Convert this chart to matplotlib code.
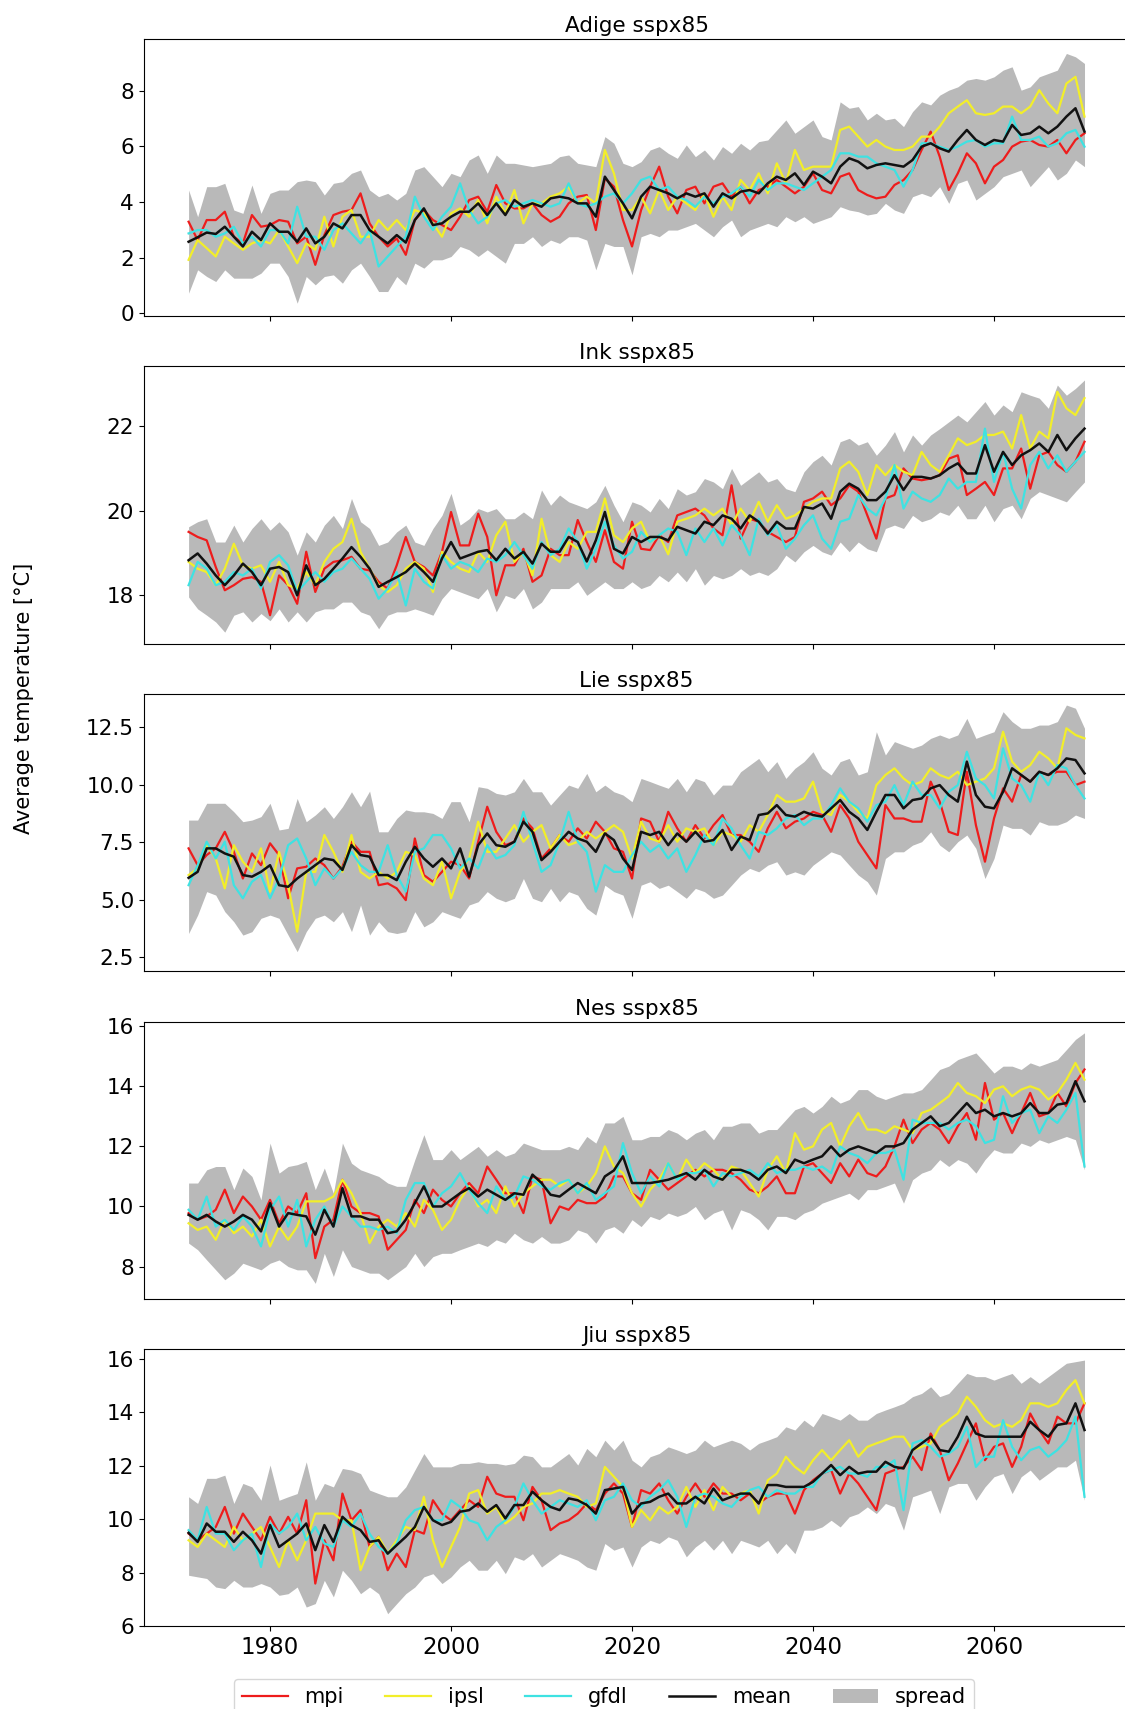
import numpy as np
import matplotlib
matplotlib.use("Agg")
import matplotlib.pyplot as plt
from matplotlib.patches import Patch

# yearly basin temperatures, 1971-2070
years = np.arange(1971, 2071)

adige_mpi = [
    3.29, 2.63, 3.35, 3.35, 3.65, 2.75, 2.51, 3.53, 3.11, 3.17,
    3.35, 3.29, 2.51, 2.75, 1.74, 2.81, 3.53, 3.65, 3.71, 4.31,
    3.23, 2.75, 2.40, 2.69, 2.10, 3.35, 3.71, 3.35, 3.17, 2.99,
    3.47, 4.07, 4.19, 3.65, 4.61, 3.95, 3.77, 3.77, 3.95, 3.53,
    3.29, 3.47, 3.95, 4.19, 4.25, 2.99, 4.85, 4.55, 3.35, 2.40,
    3.71, 4.55, 5.27, 4.19, 3.59, 4.43, 4.55, 3.95, 4.55, 4.67,
    4.19, 4.55, 3.95, 4.43, 4.55, 4.79, 4.55, 4.31, 4.55, 5.03,
    4.43, 4.31, 4.91, 5.03, 4.43, 4.25, 4.13, 4.19, 4.61, 4.79,
    5.15, 5.87, 6.53, 5.63, 4.43, 5.03, 5.75, 5.39, 4.67, 5.27,
    5.51, 5.99, 6.17, 6.23, 6.05, 5.99, 6.23, 5.75, 6.23, 6.47,
]
adige_ipsl = [
    1.92, 2.63, 2.34, 2.04, 2.75, 2.51, 2.28, 2.51, 2.63, 2.51,
    2.99, 2.40, 1.80, 2.51, 2.28, 3.47, 2.40, 3.47, 3.71, 2.75,
    2.75, 3.35, 2.99, 3.35, 2.99, 3.71, 3.59, 3.23, 2.75, 3.59,
    3.77, 3.47, 4.07, 3.23, 4.19, 3.59, 4.43, 3.23, 3.95, 3.95,
    4.19, 4.31, 4.55, 3.95, 4.19, 3.95, 5.87, 5.03, 3.71, 3.71,
    4.19, 3.59, 4.43, 3.71, 4.19, 3.95, 3.71, 4.31, 3.47, 4.19,
    3.71, 4.79, 4.43, 5.03, 4.31, 5.39, 4.67, 5.87, 5.15, 5.27,
    5.27, 5.27, 6.59, 6.71, 6.35, 5.99, 6.23, 5.99, 5.87, 5.87,
    5.99, 6.35, 6.35, 6.71, 7.19, 7.43, 7.66, 7.19, 7.13, 7.19,
    7.43, 7.43, 7.19, 7.43, 8.02, 7.54, 7.19, 8.26, 8.50, 7.07,
]
adige_gfdl = [
    2.87, 2.99, 2.99, 2.75, 2.87, 3.11, 2.51, 2.75, 2.40, 2.99,
    2.99, 2.51, 3.83, 2.75, 2.75, 2.28, 2.99, 3.23, 2.87, 2.51,
    2.99, 1.68, 2.04, 2.40, 2.75, 4.19, 3.47, 2.99, 3.47, 3.83,
    4.67, 3.71, 3.23, 3.47, 3.95, 4.07, 3.83, 3.95, 4.07, 3.95,
    3.83, 3.95, 4.67, 3.95, 3.83, 3.95, 4.19, 4.31, 3.95, 4.31,
    4.79, 4.91, 4.43, 4.55, 4.19, 4.07, 3.83, 4.19, 3.95, 4.19,
    4.31, 4.55, 4.19, 4.79, 4.43, 4.67, 4.67, 4.55, 4.43, 4.67,
    4.91, 5.15, 5.75, 5.75, 5.63, 5.63, 5.39, 5.27, 5.15, 4.55,
    5.15, 6.11, 6.11, 5.99, 5.87, 5.99, 6.17, 6.23, 5.99, 6.11,
    6.11, 7.07, 6.23, 6.23, 6.35, 5.99, 6.11, 6.47, 6.59, 5.99,
]
adige_mean = [
    2.57, 2.73, 2.90, 2.85, 3.11, 2.75, 2.40, 2.93, 2.63, 3.23,
    2.93, 2.93, 2.57, 3.05, 2.51, 2.75, 3.23, 3.05, 3.53, 3.53,
    2.99, 2.75, 2.51, 2.81, 2.54, 3.35, 3.77, 3.17, 3.23, 3.47,
    3.65, 3.65, 3.95, 3.53, 3.95, 3.53, 4.07, 3.83, 3.95, 3.83,
    4.13, 4.19, 4.13, 3.95, 3.95, 3.47, 4.91, 4.43, 3.95, 3.41,
    4.19, 4.55, 4.43, 4.31, 4.13, 4.31, 4.19, 4.31, 3.83, 4.31,
    4.13, 4.37, 4.43, 4.31, 4.67, 4.91, 4.79, 5.03, 4.61, 5.09,
    4.91, 4.67, 5.27, 5.57, 5.45, 5.21, 5.33, 5.39, 5.33, 5.27,
    5.51, 5.99, 6.11, 5.93, 5.81, 6.23, 6.59, 6.23, 6.05, 6.23,
    6.17, 6.77, 6.41, 6.47, 6.71, 6.47, 6.71, 7.07, 7.37, 6.53,
]
adige_low = [
    0.72, 1.56, 1.32, 1.14, 1.56, 1.26, 1.26, 1.26, 1.44, 1.80,
    1.80, 1.32, 0.36, 1.32, 1.02, 1.32, 1.38, 1.08, 1.56, 1.80,
    1.32, 0.78, 0.78, 1.32, 1.02, 1.80, 1.62, 1.92, 1.92, 2.04,
    2.40, 2.28, 2.04, 2.28, 2.04, 1.80, 2.51, 2.51, 2.75, 2.40,
    2.63, 2.51, 2.75, 2.75, 2.63, 1.56, 2.51, 2.40, 2.40, 1.38,
    2.75, 2.87, 2.75, 2.99, 2.99, 3.11, 3.23, 2.99, 2.75, 3.11,
    3.35, 2.75, 2.99, 3.11, 3.23, 3.11, 3.47, 3.29, 3.47, 3.23,
    3.35, 3.47, 3.83, 3.71, 3.65, 3.53, 3.59, 3.95, 3.71, 3.59,
    4.19, 4.31, 4.19, 4.55, 3.95, 4.67, 4.79, 4.07, 4.31, 4.55,
    4.91, 5.03, 5.15, 4.55, 4.91, 5.27, 4.79, 5.03, 5.51, 5.27,
]
adige_high = [
    4.43, 3.47, 4.55, 4.55, 4.67, 3.71, 3.59, 4.61, 3.59, 4.31,
    4.43, 4.43, 4.73, 4.79, 4.73, 4.25, 4.67, 4.73, 5.03, 5.15,
    4.43, 4.19, 4.31, 4.07, 4.31, 5.15, 5.27, 4.91, 4.55, 5.03,
    4.91, 5.51, 5.69, 5.03, 5.69, 5.39, 5.39, 5.33, 5.27, 5.33,
    5.39, 5.63, 5.69, 5.39, 5.33, 5.27, 6.35, 6.11, 5.39, 5.27,
    5.45, 5.87, 5.99, 5.75, 5.57, 6.05, 5.63, 5.87, 5.51, 5.99,
    5.75, 6.11, 5.87, 6.17, 6.23, 6.59, 6.95, 6.47, 6.71, 6.95,
    6.35, 6.23, 7.60, 7.37, 7.43, 6.95, 7.19, 6.95, 7.01, 6.71,
    7.25, 7.60, 7.49, 7.84, 8.02, 8.14, 8.38, 8.44, 8.38, 8.50,
    8.74, 8.86, 8.02, 8.14, 8.50, 8.62, 8.74, 9.34, 9.22, 8.98,
]

ink_mpi = [
    19.50, 19.38, 19.30, 18.67, 18.12, 18.24, 18.39, 18.43, 18.32, 17.53,
    18.47, 18.24, 17.80, 19.03, 18.08, 18.63, 18.79, 18.83, 18.91, 18.63,
    18.59, 18.32, 18.16, 18.71, 19.38, 18.79, 18.67, 18.47, 19.03, 19.97,
    19.18, 19.18, 19.93, 19.38, 18.00, 18.71, 18.71, 19.10, 18.32, 18.47,
    19.10, 18.95, 18.95, 19.78, 19.26, 18.79, 19.54, 18.79, 18.63, 19.74,
    19.10, 19.07, 19.42, 19.26, 19.89, 19.97, 20.05, 19.89, 19.58, 19.42,
    20.60, 19.34, 19.81, 19.74, 19.50, 19.38, 19.26, 19.38, 20.21, 20.29,
    20.45, 20.13, 20.29, 20.60, 20.45, 19.89, 19.34, 20.29, 20.37, 21.00,
    20.76, 20.72, 20.76, 20.84, 21.23, 21.31, 20.37, 20.52, 20.68, 20.37,
    21.00, 21.00, 21.47, 20.52, 21.31, 21.39, 21.08, 20.92, 21.16, 21.63,
]
ink_ipsl = [
    18.79, 18.63, 18.55, 18.24, 18.63, 19.22, 18.71, 18.63, 18.71, 18.32,
    18.79, 18.24, 18.16, 18.55, 18.24, 18.79, 19.10, 19.26, 19.81, 19.03,
    18.63, 18.24, 18.08, 18.24, 18.63, 18.79, 18.63, 18.08, 19.03, 18.79,
    18.63, 18.55, 19.03, 18.79, 19.42, 19.74, 18.79, 19.03, 18.47, 19.81,
    18.95, 18.79, 19.26, 19.10, 19.50, 19.50, 20.29, 19.42, 19.26, 19.58,
    19.74, 19.26, 19.42, 18.97, 19.74, 19.81, 19.89, 20.05, 19.89, 20.05,
    19.66, 20.05, 19.74, 20.21, 19.74, 20.13, 19.81, 19.89, 20.05, 20.21,
    20.29, 20.29, 21.00, 21.16, 20.92, 20.37, 21.08, 20.84, 21.08, 20.92,
    20.84, 21.39, 21.08, 20.92, 21.31, 21.71, 21.55, 21.63, 21.79, 21.79,
    21.87, 21.47, 22.26, 21.47, 21.87, 21.71, 22.81, 22.42, 22.26, 22.66,
]
ink_gfdl = [
    18.24, 18.79, 18.63, 18.24, 18.32, 18.55, 18.47, 18.63, 18.16, 18.79,
    18.95, 18.71, 18.08, 18.32, 18.55, 18.32, 18.55, 18.63, 18.87, 18.63,
    18.39, 17.92, 18.16, 18.55, 17.76, 18.63, 18.32, 18.16, 18.95, 18.63,
    18.79, 18.71, 18.55, 18.87, 18.79, 18.95, 19.26, 18.95, 18.63, 19.26,
    18.95, 19.10, 19.58, 19.26, 18.63, 19.10, 19.74, 19.18, 18.87, 19.03,
    19.50, 19.26, 19.42, 19.58, 19.50, 18.95, 19.58, 19.26, 19.58, 19.18,
    19.66, 19.42, 18.95, 19.81, 19.42, 19.66, 19.10, 19.34, 19.66, 19.89,
    19.34, 19.10, 19.74, 19.81, 20.37, 20.05, 19.89, 20.29, 21.08, 20.05,
    20.45, 20.29, 20.21, 20.37, 20.76, 20.52, 20.68, 20.68, 21.94, 20.68,
    21.39, 20.52, 20.05, 21.08, 21.39, 21.00, 21.31, 20.92, 21.16, 21.39,
]
ink_mean = [
    18.83, 18.99, 18.75, 18.47, 18.24, 18.47, 18.75, 18.55, 18.24, 18.63,
    18.67, 18.55, 18.00, 18.71, 18.24, 18.39, 18.63, 18.87, 19.14, 18.91,
    18.63, 18.20, 18.32, 18.43, 18.55, 18.75, 18.55, 18.32, 18.87, 19.26,
    18.87, 18.95, 19.03, 19.07, 18.83, 19.10, 18.87, 19.03, 18.75, 19.22,
    19.03, 19.03, 19.38, 19.26, 18.80, 19.30, 19.97, 19.10, 18.99, 19.38,
    19.26, 19.38, 19.38, 19.30, 19.62, 19.54, 19.46, 19.74, 19.66, 19.89,
    19.81, 19.58, 19.89, 19.74, 19.46, 19.74, 19.58, 19.58, 20.09, 20.05,
    20.17, 19.81, 20.45, 20.64, 20.52, 20.25, 20.25, 20.45, 20.84, 20.49,
    20.80, 20.80, 20.76, 20.84, 21.00, 21.12, 20.88, 20.88, 21.55, 20.92,
    21.39, 21.08, 21.31, 21.43, 21.59, 21.39, 21.79, 21.43, 21.71, 21.94,
]
ink_low = [
    17.96, 17.68, 17.53, 17.37, 17.13, 17.53, 17.61, 17.37, 17.57, 17.40,
    17.68, 17.37, 17.61, 17.37, 17.61, 17.68, 17.68, 17.84, 17.84, 17.61,
    17.53, 17.21, 17.53, 17.61, 17.61, 17.68, 17.61, 17.53, 17.92, 18.16,
    18.08, 18.00, 17.92, 18.16, 17.61, 18.00, 17.92, 18.16, 17.68, 17.84,
    18.16, 18.16, 18.16, 18.32, 18.00, 18.16, 18.32, 18.16, 18.16, 18.32,
    18.16, 18.24, 18.47, 18.32, 18.55, 18.32, 18.63, 18.24, 18.47, 18.39,
    18.47, 18.63, 18.47, 18.55, 18.47, 18.63, 18.95, 18.79, 19.03, 19.18,
    19.03, 18.95, 19.26, 19.03, 19.26, 19.10, 19.03, 19.58, 19.66, 19.58,
    19.89, 19.74, 19.81, 19.97, 19.89, 20.13, 19.81, 19.81, 20.13, 19.74,
    20.05, 20.13, 19.81, 20.29, 20.45, 20.37, 20.29, 20.21, 20.45, 20.68,
]
ink_high = [
    19.62, 19.74, 19.81, 19.26, 19.26, 19.66, 19.26, 19.58, 19.81, 19.54,
    19.74, 19.50, 18.95, 19.50, 19.26, 19.66, 19.89, 19.58, 20.29, 19.74,
    19.58, 19.18, 19.26, 19.50, 19.66, 19.26, 19.18, 19.58, 19.89, 20.41,
    19.66, 19.81, 20.05, 19.97, 20.05, 19.81, 19.81, 19.97, 19.81, 20.49,
    20.13, 20.37, 20.21, 20.13, 20.05, 20.21, 20.60, 20.13, 19.74, 20.21,
    20.13, 19.97, 20.29, 20.05, 20.52, 20.37, 20.45, 20.76, 20.68, 20.52,
    21.00, 20.60, 20.76, 20.92, 20.68, 20.76, 20.52, 20.45, 20.92, 21.16,
    21.31, 21.08, 21.63, 21.71, 21.55, 21.63, 21.31, 21.55, 21.87, 21.39,
    21.79, 21.55, 21.79, 21.94, 22.10, 22.26, 22.10, 22.34, 22.58, 22.26,
    22.50, 22.34, 22.81, 22.73, 22.66, 22.42, 22.97, 22.73, 22.89, 23.09,
]

lie_mpi = [
    7.24, 6.51, 6.95, 7.24, 7.96, 7.09, 5.93, 7.02, 6.51, 7.46,
    6.95, 5.07, 6.37, 6.44, 6.80, 6.51, 5.93, 6.44, 7.53, 7.09,
    7.09, 5.64, 5.72, 5.50, 4.99, 7.67, 6.08, 5.79, 6.22, 6.66,
    6.51, 5.93, 7.53, 9.05, 7.96, 7.38, 7.53, 8.54, 8.11, 6.80,
    7.24, 7.82, 7.53, 8.11, 7.67, 8.40, 7.96, 7.24, 7.09, 5.93,
    8.54, 8.40, 7.53, 8.83, 8.11, 7.53, 8.25, 7.67, 8.25, 8.69,
    7.82, 7.82, 7.53, 7.09, 8.11, 8.83, 8.11, 8.40, 8.54, 8.83,
    8.69, 7.96, 9.12, 8.54, 7.53, 6.95, 6.37, 9.12, 8.54, 8.54,
    8.40, 8.40, 10.14, 9.27, 7.96, 7.82, 10.57, 8.25, 6.66, 8.54,
    9.85, 9.27, 10.43, 10.14, 10.57, 10.43, 10.57, 10.57, 9.99, 10.14,
]
lie_ipsl = [
    6.08, 6.37, 7.38, 6.80, 5.50, 7.38, 6.66, 6.22, 7.24, 5.36,
    7.09, 5.64, 3.62, 6.22, 6.22, 7.82, 7.09, 6.22, 7.82, 6.22,
    5.93, 6.22, 5.93, 6.22, 7.09, 6.95, 5.93, 5.64, 6.66, 5.07,
    6.22, 6.80, 8.40, 7.09, 7.09, 7.67, 8.25, 7.53, 7.96, 8.25,
    7.24, 7.82, 7.38, 7.53, 7.96, 7.67, 7.96, 8.25, 7.96, 6.80,
    8.40, 7.67, 7.53, 8.25, 7.53, 8.11, 7.96, 8.11, 7.38, 7.96,
    7.82, 7.53, 8.25, 7.96, 8.69, 9.56, 9.27, 9.27, 9.41, 10.14,
    8.83, 8.69, 9.56, 9.27, 8.83, 8.54, 9.99, 10.43, 10.72, 10.28,
    9.99, 10.14, 10.72, 10.43, 10.28, 10.57, 9.99, 10.14, 10.28, 10.72,
    12.31, 11.01, 10.57, 10.86, 11.44, 11.15, 10.72, 12.46, 12.17, 12.02,
]
lie_gfdl = [
    5.64, 6.51, 7.53, 6.80, 7.53, 5.64, 5.07, 5.79, 6.08, 5.07,
    5.93, 7.38, 7.67, 6.80, 5.64, 6.37, 5.93, 6.37, 7.09, 6.51,
    6.22, 6.22, 7.38, 6.08, 5.36, 7.09, 7.24, 7.82, 7.82, 7.24,
    6.37, 6.80, 6.37, 7.38, 6.80, 6.95, 7.38, 8.83, 7.53, 6.22,
    6.51, 7.53, 8.83, 7.53, 7.09, 5.36, 6.51, 6.22, 6.22, 6.95,
    7.53, 7.09, 7.38, 6.80, 7.24, 6.22, 6.95, 7.82, 7.38, 8.54,
    8.11, 7.38, 6.80, 7.96, 7.82, 8.11, 8.54, 8.69, 8.25, 8.54,
    8.54, 9.12, 9.85, 9.27, 8.98, 8.40, 9.12, 9.27, 9.99, 9.12,
    10.14, 9.56, 9.56, 8.98, 9.70, 9.99, 11.44, 10.28, 9.99, 9.41,
    11.59, 10.28, 9.99, 9.27, 10.57, 9.99, 10.86, 10.72, 9.99, 9.41,
]
lie_mean = [
    5.96, 6.22, 7.24, 7.24, 7.02, 6.88, 6.08, 6.01, 6.22, 6.51,
    5.64, 5.57, 5.93, 6.22, 6.51, 6.80, 6.73, 6.30, 7.38, 6.95,
    6.88, 6.08, 6.08, 5.86, 6.66, 7.31, 6.80, 6.44, 6.80, 6.37,
    7.24, 6.01, 7.38, 7.89, 7.38, 7.31, 7.53, 8.40, 7.96, 6.73,
    7.09, 7.53, 7.96, 7.67, 7.53, 7.09, 7.89, 7.60, 6.80, 6.30,
    7.96, 7.82, 7.96, 7.38, 7.89, 7.53, 7.96, 7.53, 7.60, 8.04,
    7.17, 7.75, 7.60, 8.69, 8.76, 9.12, 8.69, 8.62, 8.83, 8.69,
    8.62, 8.98, 9.34, 8.83, 8.54, 8.04, 8.83, 9.56, 9.56, 8.98,
    9.34, 9.41, 9.85, 9.99, 9.56, 9.27, 11.01, 9.56, 9.05, 8.98,
    9.70, 10.72, 10.43, 10.14, 10.57, 10.43, 10.72, 11.15, 11.08, 10.50,
]
lie_low = [
    3.54, 4.34, 5.36, 5.21, 4.49, 4.05, 3.47, 3.62, 4.20, 4.34,
    4.20, 3.47, 2.75, 3.62, 4.20, 4.34, 4.05, 4.49, 3.62, 4.78,
    3.47, 4.05, 3.62, 3.54, 3.62, 4.49, 3.83, 4.05, 4.49, 4.34,
    4.20, 4.78, 4.92, 5.36, 5.07, 4.92, 5.07, 5.93, 5.07, 4.92,
    5.50, 4.92, 5.36, 5.21, 4.63, 4.34, 5.64, 5.36, 5.21, 4.20,
    5.64, 5.79, 5.50, 5.64, 5.36, 5.07, 5.50, 5.36, 5.07, 5.21,
    5.64, 6.08, 6.37, 6.22, 6.51, 6.66, 6.08, 6.22, 6.08, 6.51,
    6.80, 7.09, 6.95, 6.51, 6.08, 5.79, 5.21, 6.80, 7.09, 7.09,
    7.38, 7.53, 7.96, 7.38, 7.09, 7.53, 7.82, 7.24, 5.93, 6.80,
    8.25, 8.11, 8.11, 7.82, 8.40, 8.25, 8.25, 8.40, 8.69, 8.54,
]
lie_high = [
    8.47, 8.47, 9.20, 9.20, 9.20, 8.83, 8.40, 8.47, 8.62, 9.20,
    8.04, 8.11, 9.41, 8.40, 8.69, 9.05, 8.54, 9.05, 9.70, 9.05,
    9.73, 7.96, 7.96, 8.54, 8.91, 8.83, 8.83, 8.76, 8.54, 9.27,
    9.27, 8.40, 9.92, 9.85, 9.63, 9.56, 9.70, 10.28, 9.70, 9.70,
    9.12, 9.56, 9.99, 9.85, 10.50, 9.70, 9.99, 9.70, 9.56, 9.27,
    10.28, 10.14, 9.99, 9.85, 10.28, 9.70, 10.28, 10.14, 9.56, 9.99,
    9.99, 10.57, 10.86, 11.15, 10.57, 11.01, 10.28, 10.72, 11.01, 11.44,
    10.72, 10.43, 11.01, 11.15, 10.43, 10.57, 12.31, 11.30, 11.88, 11.73,
    11.59, 11.73, 12.02, 12.17, 12.02, 12.17, 12.89, 12.02, 12.17, 12.31,
    13.18, 12.75, 12.46, 12.46, 12.60, 12.60, 12.75, 13.47, 13.33, 12.46,
]

nes_mpi = [
    9.78, 9.56, 9.67, 9.89, 10.56, 9.78, 10.33, 10.00, 9.56, 10.22,
    9.44, 10.00, 9.78, 10.44, 8.28, 9.33, 9.56, 10.89, 10.00, 9.78,
    9.78, 9.67, 8.56, 8.89, 9.22, 10.22, 9.78, 10.56, 10.22, 10.00,
    10.44, 10.78, 10.44, 11.33, 10.89, 10.44, 10.44, 9.78, 11.00, 10.89,
    9.44, 10.00, 9.89, 10.22, 10.11, 10.11, 10.33, 11.00, 11.00, 10.44,
    10.22, 11.22, 10.89, 10.56, 10.78, 11.00, 11.22, 11.00, 11.22, 11.22,
    11.11, 10.89, 10.56, 10.44, 10.67, 11.00, 10.44, 10.44, 11.33, 11.44,
    11.11, 10.78, 11.44, 11.00, 11.56, 11.11, 11.00, 11.33, 12.00, 12.89,
    12.11, 12.56, 12.78, 12.56, 12.11, 12.67, 13.11, 12.22, 14.11, 12.89,
    13.11, 12.44, 13.11, 13.78, 13.00, 13.11, 13.78, 13.33, 14.11, 14.56,
]
nes_ipsl = [
    9.44, 9.22, 9.33, 8.89, 9.56, 9.11, 9.33, 9.00, 9.56, 8.67,
    9.33, 8.89, 9.33, 10.17, 10.17, 10.17, 10.33, 10.89, 10.44, 9.78,
    8.78, 9.33, 9.56, 9.33, 9.78, 9.33, 10.22, 9.89, 9.22, 9.56,
    10.22, 10.67, 10.00, 10.22, 9.78, 10.67, 10.00, 10.44, 10.67, 10.89,
    10.89, 10.67, 10.89, 10.44, 10.67, 11.11, 12.00, 11.33, 11.11, 10.44,
    10.00, 10.56, 10.89, 11.44, 10.89, 11.56, 11.11, 11.44, 11.22, 10.89,
    11.33, 11.22, 10.78, 10.33, 11.22, 11.67, 11.11, 12.44, 11.89, 12.00,
    12.56, 12.78, 12.00, 12.67, 13.11, 12.56, 12.56, 12.44, 12.67, 12.56,
    12.44, 13.11, 13.22, 13.44, 13.67, 14.11, 13.78, 13.67, 13.44, 13.89,
    14.00, 13.67, 13.89, 14.00, 13.89, 13.56, 13.78, 14.22, 14.78, 14.22,
]
nes_gfdl = [
    9.89, 9.56, 10.33, 9.33, 9.56, 9.22, 9.67, 9.33, 8.67, 9.89,
    10.33, 9.33, 10.22, 8.67, 9.56, 10.00, 9.33, 10.00, 9.67, 9.33,
    9.33, 9.22, 9.33, 9.11, 10.22, 10.78, 10.78, 10.00, 10.44, 10.67,
    11.11, 10.56, 10.11, 9.78, 10.67, 10.22, 10.33, 11.00, 10.89, 10.67,
    10.56, 10.78, 10.89, 10.44, 10.78, 10.22, 10.44, 10.67, 12.11, 11.11,
    10.44, 11.00, 10.67, 11.44, 10.89, 11.11, 11.11, 11.22, 10.67, 11.11,
    11.00, 11.11, 11.22, 11.00, 11.44, 11.11, 11.22, 11.22, 11.33, 11.22,
    11.33, 11.11, 12.00, 11.78, 11.67, 11.44, 11.78, 11.78, 11.89, 10.89,
    12.89, 12.78, 12.78, 12.78, 12.56, 12.78, 12.89, 12.67, 12.11, 12.22,
    13.67, 12.78, 13.11, 13.22, 12.44, 13.00, 12.78, 13.22, 13.78, 11.33,
]
nes_mean = [
    9.72, 9.56, 9.72, 9.50, 9.33, 9.50, 9.72, 9.56, 9.17, 10.11,
    9.33, 9.78, 9.72, 9.67, 9.06, 9.89, 9.33, 10.61, 9.67, 9.67,
    9.56, 9.56, 9.11, 9.17, 9.56, 10.11, 10.67, 10.00, 10.00, 10.22,
    10.44, 10.61, 10.33, 10.56, 10.39, 10.22, 10.44, 10.39, 11.06, 10.78,
    10.39, 10.33, 10.56, 10.78, 10.61, 10.44, 11.00, 11.20, 11.67, 10.78,
    10.78, 10.78, 10.83, 10.89, 11.00, 11.11, 10.89, 11.22, 11.00, 10.89,
    11.22, 11.22, 11.11, 10.89, 11.22, 11.33, 11.11, 11.56, 11.44, 11.56,
    11.67, 12.00, 11.67, 11.89, 12.00, 11.89, 11.78, 12.00, 12.00, 12.11,
    12.56, 12.78, 13.00, 12.67, 12.78, 13.11, 13.44, 13.11, 13.22, 13.00,
    13.11, 13.00, 13.11, 13.44, 13.11, 13.11, 13.39, 13.44, 14.17, 13.50,
]
nes_low = [
    8.78, 8.56, 8.22, 7.89, 7.56, 7.78, 8.11, 8.00, 7.89, 8.11,
    8.22, 8.00, 7.89, 7.89, 7.44, 8.44, 7.67, 8.56, 8.00, 7.89,
    7.78, 7.78, 7.56, 7.78, 8.00, 8.44, 8.00, 8.33, 8.44, 8.44,
    8.56, 8.67, 8.78, 8.67, 8.89, 8.78, 9.11, 8.89, 8.78, 9.00,
    8.78, 8.78, 8.89, 9.22, 9.11, 8.78, 9.22, 9.33, 9.11, 9.56,
    9.33, 9.67, 9.56, 9.78, 9.67, 9.78, 10.00, 9.56, 9.78, 9.89,
    9.22, 9.89, 9.78, 9.56, 9.22, 9.67, 9.67, 9.56, 9.78, 9.89,
    10.11, 10.22, 10.33, 10.44, 10.22, 10.56, 10.56, 10.67, 10.78, 10.11,
    10.89, 11.11, 11.22, 11.56, 11.33, 11.56, 11.44, 11.11, 11.56, 11.89,
    11.78, 11.78, 12.11, 12.00, 12.22, 12.11, 12.22, 12.33, 12.22, 11.22,
]
nes_high = [
    10.78, 10.78, 11.22, 11.33, 11.33, 10.56, 11.28, 11.00, 10.22, 12.11,
    11.11, 11.33, 11.39, 11.50, 10.56, 11.28, 10.44, 12.11, 11.44, 11.22,
    11.11, 11.00, 10.78, 10.67, 10.67, 11.56, 12.39, 11.56, 11.56, 11.89,
    11.56, 11.78, 12.00, 11.67, 11.89, 11.67, 11.78, 12.11, 12.00, 11.89,
    11.89, 11.89, 12.00, 11.89, 12.33, 12.11, 12.78, 12.78, 13.00, 12.22,
    12.22, 12.33, 12.33, 12.56, 12.44, 12.22, 12.44, 12.56, 12.22, 12.67,
    12.67, 12.78, 12.78, 12.44, 12.56, 12.56, 12.89, 13.22, 13.33, 13.11,
    13.33, 13.67, 13.44, 13.56, 13.89, 13.89, 13.67, 13.56, 13.67, 13.78,
    13.78, 13.89, 14.22, 14.56, 14.67, 14.89, 15.00, 15.11, 14.78, 14.44,
    14.67, 14.67, 14.56, 14.78, 14.67, 14.78, 14.89, 15.22, 15.56, 15.78,
]

jiu_mpi = [
    9.46, 9.21, 9.46, 9.71, 10.46, 9.46, 10.21, 9.71, 9.21, 10.09,
    9.46, 10.09, 9.46, 10.71, 7.59, 9.21, 8.46, 10.96, 9.96, 10.34,
    8.96, 9.34, 8.09, 8.71, 8.21, 9.59, 9.46, 10.71, 10.21, 9.96,
    10.34, 10.71, 10.46, 11.59, 10.96, 10.84, 10.84, 9.96, 11.21, 10.71,
    9.59, 9.84, 9.96, 10.21, 10.59, 10.34, 10.96, 11.34, 10.96, 9.71,
    11.09, 10.96, 11.34, 10.71, 10.21, 10.84, 11.34, 10.84, 11.34, 10.96,
    10.96, 10.71, 10.96, 10.59, 10.84, 10.96, 10.96, 10.21, 11.09, 11.46,
    11.71, 11.84, 10.96, 11.71, 11.34, 10.84, 10.34, 11.71, 11.84, 11.96,
    12.34, 11.84, 13.21, 12.59, 11.46, 12.09, 12.84, 13.59, 12.21, 12.71,
    12.84, 11.96, 12.71, 13.96, 13.34, 12.84, 13.84, 13.59, 13.59, 14.34,
]
jiu_ipsl = [
    9.21, 8.96, 9.46, 9.21, 8.96, 9.71, 9.21, 9.46, 9.71, 8.96,
    8.21, 9.21, 8.46, 9.21, 10.21, 10.21, 10.21, 9.96, 9.96, 8.09,
    8.96, 9.34, 8.71, 9.21, 9.71, 9.59, 10.84, 9.21, 8.21, 8.96,
    9.71, 10.96, 11.09, 10.21, 10.46, 9.84, 10.09, 10.46, 10.59, 10.96,
    10.96, 11.09, 10.96, 10.84, 10.46, 10.59, 11.96, 11.59, 11.21, 9.71,
    10.34, 9.96, 10.46, 10.21, 10.46, 11.21, 10.46, 11.09, 10.34, 11.21,
    10.84, 10.96, 11.09, 10.21, 11.46, 11.71, 12.34, 11.96, 11.71, 12.21,
    12.59, 12.21, 12.59, 12.96, 12.34, 12.71, 12.84, 12.96, 13.09, 13.09,
    12.59, 12.71, 12.84, 13.46, 13.71, 13.96, 14.59, 14.21, 13.71, 13.46,
    13.59, 13.46, 13.71, 14.34, 14.34, 14.21, 14.34, 14.84, 15.21, 14.34,
]
jiu_gfdl = [
    9.59, 9.21, 10.46, 9.46, 9.46, 8.84, 9.21, 9.46, 8.21, 9.84,
    9.46, 9.71, 10.21, 9.21, 9.71, 9.09, 8.96, 9.96, 9.71, 10.21,
    9.46, 8.96, 8.71, 9.09, 9.96, 10.34, 10.46, 9.96, 9.96, 10.71,
    10.46, 9.96, 9.84, 9.21, 9.71, 9.96, 10.46, 11.34, 10.71, 10.21,
    10.46, 10.71, 10.59, 10.46, 10.71, 9.96, 10.71, 10.84, 11.34, 10.71,
    10.46, 10.84, 11.09, 11.46, 10.84, 9.71, 10.84, 10.96, 10.84, 10.59,
    10.46, 10.84, 11.09, 11.21, 10.84, 11.09, 10.96, 10.96, 11.21, 11.21,
    11.71, 11.84, 11.96, 11.71, 11.71, 11.59, 11.96, 11.96, 12.21, 10.34,
    12.84, 12.96, 12.71, 12.34, 12.46, 12.71, 13.46, 11.96, 12.34, 12.34,
    13.71, 12.71, 12.21, 12.59, 12.71, 12.34, 12.59, 12.96, 13.84, 10.84,
]
jiu_mean = [
    9.49, 9.15, 9.84, 9.53, 9.53, 9.15, 9.53, 9.21, 8.71, 9.78,
    8.96, 9.21, 9.46, 9.84, 8.84, 9.78, 9.15, 10.09, 9.78, 9.59,
    9.15, 9.21, 8.71, 9.03, 9.34, 9.71, 10.46, 9.96, 9.78, 9.90,
    10.28, 10.34, 10.59, 10.28, 10.53, 10.03, 10.53, 10.53, 11.03, 10.71,
    10.46, 10.34, 10.78, 10.71, 10.53, 10.21, 11.09, 11.15, 11.21, 10.21,
    10.59, 10.65, 10.84, 10.96, 10.59, 10.59, 10.84, 10.59, 11.15, 10.71,
    10.84, 10.96, 10.96, 10.59, 11.28, 11.28, 11.21, 11.21, 11.21, 11.40,
    11.71, 12.03, 11.65, 11.96, 11.71, 11.78, 11.78, 12.15, 11.96, 11.90,
    12.59, 12.84, 13.09, 12.59, 12.53, 13.09, 13.84, 13.21, 13.09, 13.09,
    13.09, 13.09, 13.09, 13.65, 13.34, 13.09, 13.53, 13.59, 14.34, 13.34,
]
jiu_low = [
    7.90, 7.84, 7.78, 7.46, 7.40, 7.71, 7.46, 7.46, 7.59, 7.46,
    7.15, 7.21, 7.46, 6.71, 6.84, 7.71, 7.09, 8.09, 7.71, 7.21,
    7.46, 7.21, 6.46, 6.84, 7.21, 7.46, 7.84, 7.96, 7.59, 7.84,
    8.21, 8.46, 8.09, 8.09, 8.46, 7.96, 8.59, 8.46, 8.71, 8.21,
    8.46, 8.71, 8.59, 8.46, 8.21, 8.09, 9.09, 8.84, 8.96, 8.21,
    8.96, 9.21, 9.09, 9.34, 9.21, 8.59, 8.96, 9.21, 8.84, 9.21,
    8.71, 9.21, 9.09, 8.96, 9.21, 8.71, 9.09, 8.71, 9.59, 9.59,
    9.71, 9.96, 9.71, 10.09, 10.21, 10.46, 10.21, 10.59, 10.46, 9.59,
    10.84, 10.96, 11.09, 10.21, 11.21, 11.34, 11.34, 10.71, 11.21, 11.59,
    11.71, 10.96, 11.59, 11.84, 11.46, 11.71, 11.96, 11.96, 12.21, 10.71,
]
jiu_high = [
    10.84, 10.59, 11.53, 11.53, 11.65, 10.59, 11.34, 11.21, 10.71, 12.03,
    10.71, 10.84, 10.96, 12.15, 10.71, 11.34, 11.21, 11.90, 11.84, 11.71,
    11.09, 10.96, 10.84, 10.84, 11.21, 11.84, 12.46, 11.96, 11.96, 11.96,
    12.09, 12.09, 12.15, 12.09, 12.09, 12.03, 12.09, 12.40, 12.34, 11.96,
    11.96, 12.21, 12.46, 12.03, 12.65, 12.34, 12.96, 12.59, 12.96, 12.21,
    11.96, 12.34, 12.46, 12.71, 12.59, 12.46, 12.59, 12.96, 12.71, 12.84,
    12.96, 12.84, 12.59, 12.84, 12.96, 13.09, 13.46, 13.34, 13.71, 13.46,
    13.96, 13.84, 13.71, 13.96, 13.71, 13.71, 13.96, 14.09, 14.21, 14.34,
    14.59, 14.71, 14.96, 14.59, 14.71, 15.09, 15.46, 15.34, 15.34, 15.21,
    15.34, 15.46, 15.09, 15.34, 15.09, 15.34, 15.59, 15.84, 15.90, 15.96,
]

basins = ["Adige", "Ink", "Lie", "Nes", "Jiu"]
basin_data = {
    "Adige": (adige_mpi, adige_ipsl, adige_gfdl, adige_mean, adige_low, adige_high),
    "Ink": (ink_mpi, ink_ipsl, ink_gfdl, ink_mean, ink_low, ink_high),
    "Lie": (lie_mpi, lie_ipsl, lie_gfdl, lie_mean, lie_low, lie_high),
    "Nes": (nes_mpi, nes_ipsl, nes_gfdl, nes_mean, nes_low, nes_high),
    "Jiu": (jiu_mpi, jiu_ipsl, jiu_gfdl, jiu_mean, jiu_low, jiu_high),
}

# axis ranges and ticks per basin
y_limits = {
    "Adige": (-0.1, 9.86),
    "Ink": (16.85, 23.42),
    "Lie": (1.91, 13.95),
    "Nes": (6.92, 16.14),
    "Jiu": (6.0, 16.375),
}
y_ticks = {
    "Adige": [0, 2, 4, 6, 8],
    "Ink": [18, 20, 22],
    "Lie": [2.5, 5.0, 7.5, 10.0, 12.5],
    "Nes": [8, 10, 12, 14, 16],
    "Jiu": [6, 8, 10, 12, 14, 16],
}

model_colors = {"mpi": "#ee1c1c", "ipsl": "#f2ee2a", "gfdl": "#3ee2e2", "mean": "#111111"}
spread_color = "#b9b9b9"

plt.rcParams["font.family"] = "DejaVu Sans"

W, H = 1125, 1709
fig = plt.figure(figsize=(W / 100, H / 100), dpi=100)

# panel frames in pixels (top, bottom)
frames = [(39, 316), (366, 644), (694, 971), (1022, 1299), (1349, 1626)]
left_px, width_px = 143.8, 985.5

axes = []
for name, (top, bottom) in zip(basins, frames):
    ax = fig.add_axes([left_px / W, 1 - bottom / H, width_px / W, (bottom - top) / H])
    mpi, ipsl, gfdl, mean, low, high = basin_data[name]
    ax.fill_between(years, low, high, color=spread_color, linewidth=0, zorder=1)
    ax.plot(years, mpi, color=model_colors["mpi"], lw=1.6, zorder=2)
    ax.plot(years, ipsl, color=model_colors["ipsl"], lw=1.6, zorder=2)
    ax.plot(years, gfdl, color=model_colors["gfdl"], lw=1.6, zorder=2)
    ax.plot(years, mean, color=model_colors["mean"], lw=1.8, zorder=3)
    ax.set_xlim(1966.05, 2074.95)
    ax.set_ylim(*y_limits[name])
    ax.set_yticks(y_ticks[name])
    if name == "Lie":
        ax.set_yticklabels([f"{t:.1f}" for t in y_ticks[name]])
    ax.set_xticks([1980, 2000, 2020, 2040, 2060])
    ax.tick_params(axis="y", labelsize=15.5)
    ax.tick_params(axis="x", labelsize=16.5)
    if name != basins[-1]:
        ax.tick_params(axis="x", labelbottom=False)
    ax.set_title(f"{name} sspx85", fontsize=15.5, pad=5)
    axes.append(ax)

fig.text(24 / W, 1 - 698 / H, "Average temperature [°C]", rotation=90,
         ha="center", va="center", fontsize=15)

handles = [
    plt.Line2D([], [], color=model_colors["mpi"], lw=1.6),
    plt.Line2D([], [], color=model_colors["ipsl"], lw=1.6),
    plt.Line2D([], [], color=model_colors["gfdl"], lw=1.6),
    plt.Line2D([], [], color=model_colors["mean"], lw=1.8),
    Patch(facecolor=spread_color, edgecolor="none"),
]
fig.legend(handles, ["mpi", "ipsl", "gfdl", "mean", "spread"], loc="upper center",
           bbox_to_anchor=(604 / W, 1 - 1679 / H), borderaxespad=0, ncol=5,
           fontsize=15, frameon=True, handlelength=2.2)

fig.savefig("out.png", dpi=100)
